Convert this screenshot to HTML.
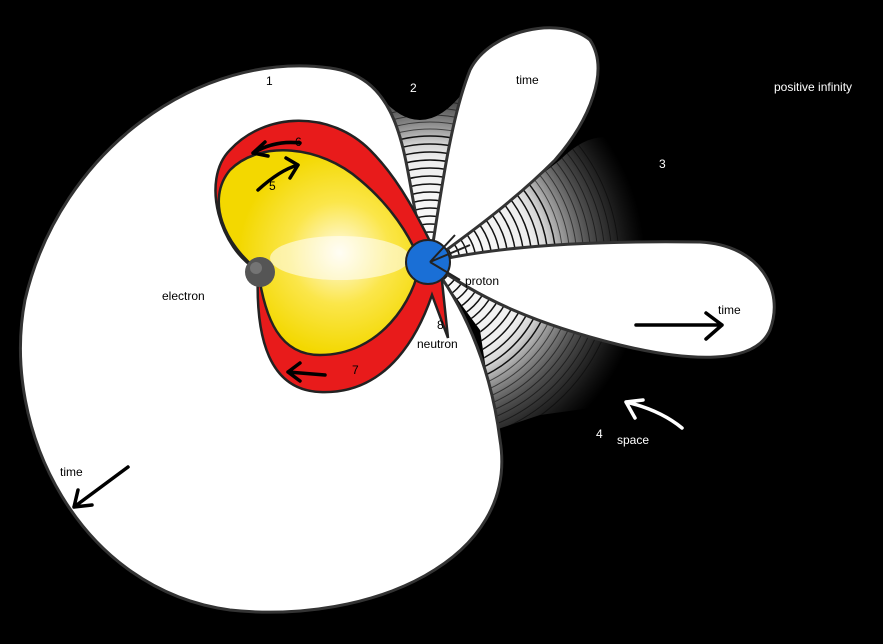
<!DOCTYPE html>
<html><head><meta charset="utf-8"><style>
html,body{margin:0;padding:0;background:#000;width:883px;height:644px;overflow:hidden}
svg{display:block}
text{font-family:"Liberation Sans","DejaVu Sans",sans-serif;font-size:12px}
</style></head><body>
<svg width="883" height="644" viewBox="0 0 883 644" xmlns="http://www.w3.org/2000/svg">
<defs>
<radialGradient id="yg" cx="0.6" cy="0.5" r="0.5">
<stop offset="0" stop-color="#fffbe8"/><stop offset="0.5" stop-color="#fbe64a"/><stop offset="1" stop-color="#f3d800"/>
</radialGradient>
<radialGradient id="wg" gradientUnits="userSpaceOnUse" cx="430" cy="262" r="230">
<stop offset="0" stop-color="#fff"/><stop offset="0.45" stop-color="#eee"/><stop offset="0.7" stop-color="#888"/><stop offset="1" stop-color="#444"/>
</radialGradient>
<radialGradient id="mg" gradientUnits="userSpaceOnUse" cx="430" cy="262" r="215">
<stop offset="0" stop-color="#fff"/><stop offset="0.55" stop-color="#fff"/><stop offset="0.8" stop-color="#777"/><stop offset="1" stop-color="#000"/>
</radialGradient>
<mask id="fade"><rect width="883" height="644" fill="url(#mg)"/></mask>
<filter id="bl"><feGaussianBlur stdDeviation="6"/></filter>
<clipPath id="wc">
<path d="M430 262 L375 90 Q420 150 465 90 Z"/>
<path d="M430 262 L560 160 Q610 110 650 170 L655 240 Z"/>
<path d="M430 262 L640 345 Q700 380 650 400 L540 415 L495 430 L480 330 Z"/>
</clipPath>
</defs>
<rect width="883" height="644" fill="#000"/>
<g mask="url(#fade)">
<g clip-path="url(#wc)">
<rect width="883" height="644" fill="url(#wg)"/>
<g fill="none" stroke="#111" stroke-width="1.5">
<circle cx="430" cy="262" r="14"/><circle cx="430" cy="262" r="22"/><circle cx="430" cy="262" r="30"/>
<circle cx="430" cy="262" r="38"/><circle cx="430" cy="262" r="46"/><circle cx="430" cy="262" r="54"/>
<circle cx="430" cy="262" r="62"/><circle cx="430" cy="262" r="70"/><circle cx="430" cy="262" r="78"/>
<circle cx="430" cy="262" r="86"/><circle cx="430" cy="262" r="94"/><circle cx="430" cy="262" r="102"/>
<circle cx="430" cy="262" r="110"/><circle cx="430" cy="262" r="118"/><circle cx="430" cy="262" r="126"/>
</g>
<g fill="none" stroke="#222" stroke-width="1" opacity="0.7">
<circle cx="430" cy="262" r="133"/><circle cx="430" cy="262" r="140"/><circle cx="430" cy="262" r="147"/>
<circle cx="430" cy="262" r="154"/><circle cx="430" cy="262" r="161"/><circle cx="430" cy="262" r="168"/>
<circle cx="430" cy="262" r="175"/><circle cx="430" cy="262" r="182"/><circle cx="430" cy="262" r="189"/>
</g>
</g>
</g>
<!-- big lobe -->
<path d="M430 262 C400 200 420 80 330 68 C200 50 60 150 25 300 C0 430 80 590 230 610 C370 625 520 560 500 440 C490 360 460 300 430 262 Z" fill="#fff" stroke="#333" stroke-width="3"/>
<!-- upper lobe -->
<path d="M430 262 C440 200 450 120 470 70 C490 30 560 15 590 40 C610 70 590 120 555 160 C510 205 460 240 430 262 Z" fill="#fff" stroke="#333" stroke-width="3"/>
<!-- right lobe -->
<path d="M430 262 C480 250 560 240 700 242 C760 245 785 290 770 330 C755 365 690 362 620 345 C540 325 480 300 430 262 Z" fill="#fff" stroke="#333" stroke-width="3"/>
<!-- red -->
<path d="M258 270 C220 250 200 180 230 150 C265 112 330 110 370 150 C400 180 420 220 440 262 L448 338 L432 295 C420 330 390 395 320 392 C270 390 255 340 258 270 Z" fill="#e81b1b" stroke="#222" stroke-width="2.5"/>
<!-- yellow -->
<path d="M258 270 C225 245 205 200 230 170 C260 140 320 145 360 180 C390 205 410 235 420 262 C415 300 380 355 320 355 C280 355 265 320 258 270 Z" fill="url(#yg)" stroke="#222" stroke-width="2.5"/>
<ellipse cx="340" cy="258" rx="70" ry="22" fill="#fff" opacity="0.55"/>
<!-- proton -->
<circle cx="428" cy="262" r="22" fill="#1a6fd6" stroke="#222" stroke-width="2"/>
<path d="M430 262 L470 245 M430 262 L455 235 M430 262 L460 280" stroke="#222" stroke-width="2"/>
<!-- electron -->
<circle cx="260" cy="272" r="15" fill="#555"/>
<circle cx="256" cy="268" r="6" fill="#888" opacity="0.6"/>
<!-- arrows -->
<g stroke="#000" stroke-width="3.5" fill="none" stroke-linecap="round" stroke-linejoin="round">
<path d="M300 143 Q275 140 253 153 M253 153 L265 142 M253 153 L268 156"/>
<path d="M258 190 Q280 170 298 165 M298 165 L286 158 M298 165 L290 178"/>
<path d="M325 375 L288 372 M288 372 L300 363 M288 372 L300 381"/>
<path d="M636 325 L722 325 M722 325 L706 313 M722 325 L706 339"/>
<path d="M128 467 L74 507 M74 507 L78 490 M74 507 L92 505"/>
</g>
<g stroke="#fff" stroke-width="3.5" fill="none" stroke-linecap="round" stroke-linejoin="round">
<path d="M682 428 Q660 410 626 402 M626 402 L635 418 M626 402 L643 400"/>
</g>
<!-- labels -->
<g fill="#000">
<text x="266" y="85" font-size="11">1</text>
<text x="516" y="84">time</text>
<text x="295" y="146" font-size="11">6</text>
<text x="269" y="190" font-size="11">5</text>
<text x="162" y="300">electron</text>
<text x="465" y="285">proton</text>
<text x="352" y="374" font-size="11">7</text>
<text x="718" y="314">time</text>
<text x="60" y="476">time</text>
<text x="437" y="329" font-size="11">8</text>
<text x="417" y="348" font-size="10">neutron</text>
</g>
<g fill="#fff">
<text x="410" y="92" font-size="11">2</text>
<text x="774" y="91" font-size="11">positive infinity</text>
<text x="659" y="168" font-size="11">3</text>
<text x="596" y="438" font-size="11">4</text>
<text x="617" y="444">space</text>
</g>
</svg>
</body></html>
